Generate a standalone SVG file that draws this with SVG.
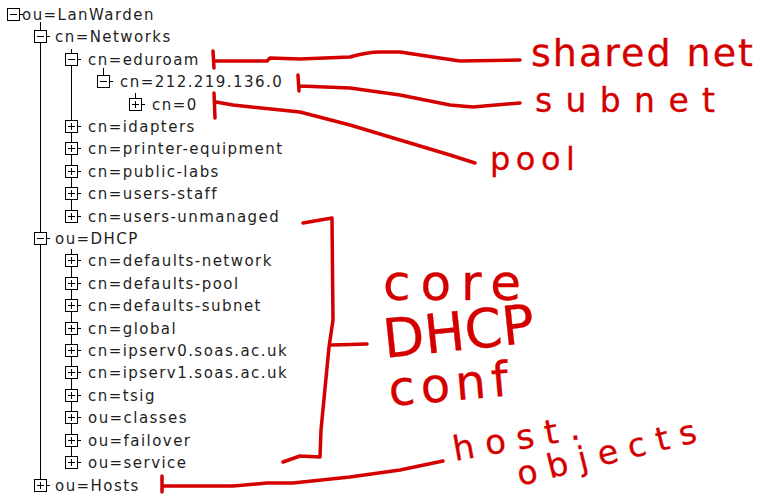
<svg xmlns="http://www.w3.org/2000/svg" xmlns:xlink="http://www.w3.org/1999/xlink" width="758" height="494" viewBox="0 0 758 494">
  <style>
    .lbl { font-family: "DejaVu Sans", "Liberation Sans", sans-serif; font-size: 15px; letter-spacing: 1.45px; fill: #1e1e1e; }
    .tree { stroke: #000; stroke-width: 1; fill: none; }
    .ink { stroke: #d40000; stroke-width: 3.5; fill: none; stroke-linecap: round; stroke-linejoin: round; }
    .note { font-family: "DejaVu Sans", "Liberation Sans", sans-serif; fill: #d40000; stroke: #d40000; stroke-width: 0.3; stroke-linejoin: round; }
  </style>
  <defs>
    <g id="minus">
      <rect x="0.5" y="0.5" width="12" height="12" fill="#fff" stroke="#000"/>
      <path d="M3 6.5h7M12.5 6.5h3.5" stroke="#000"/>
    </g>
    <g id="plus">
      <rect x="0.5" y="0.5" width="12" height="12" fill="#fff" stroke="#000"/>
      <path d="M3 6.5h7M6.5 3v7M12.5 6.5h3.5" stroke="#000"/>
    </g>
  </defs>

  <rect width="758" height="494" fill="#fff"/>

  <!-- tree guide lines -->
  <g id="connectors" class="tree">
    <path d="M40.5 22V479"/>
    <path d="M71.5 49V210"/>
    <path d="M71.5 249V456"/>
    <path d="M103.5 68V75"/>
    <path d="M135.5 93V98"/>
  </g>

  <!-- tree nodes -->
  <g id="n-lanwarden"><use xlink:href="#minus" x="7" y="8"/><text class="lbl" x="22" y="20">ou=LanWarden</text></g>
  <g id="n-networks"><use xlink:href="#minus" x="34" y="30"/><text class="lbl" x="55" y="42">cn=Networks</text></g>
  <g id="n-eduroam"><use xlink:href="#minus" x="65" y="53"/><text class="lbl" x="88" y="65">cn=eduroam</text></g>
  <g id="n-subnet"><use xlink:href="#minus" x="97" y="75"/><text class="lbl" x="120" y="87">cn=212.219.136.0</text></g>
  <g id="n-pool"><use xlink:href="#plus" x="129" y="98"/><text class="lbl" x="152" y="110">cn=0</text></g>
  <g id="n-idapters"><use xlink:href="#plus" x="65" y="120"/><text class="lbl" x="88" y="132">cn=idapters</text></g>
  <g id="n-printer"><use xlink:href="#plus" x="65" y="142"/><text class="lbl" x="88" y="154">cn=printer-equipment</text></g>
  <g id="n-publiclabs"><use xlink:href="#plus" x="65" y="165"/><text class="lbl" x="88" y="177">cn=public-labs</text></g>
  <g id="n-usersstaff"><use xlink:href="#plus" x="65" y="187"/><text class="lbl" x="88" y="199">cn=users-staff</text></g>
  <g id="n-usersunmanaged"><use xlink:href="#plus" x="65" y="210"/><text class="lbl" x="88" y="222">cn=users-unmanaged</text></g>
  <g id="n-dhcp"><use xlink:href="#minus" x="34" y="232"/><text class="lbl" x="55" y="244">ou=DHCP</text></g>
  <g id="n-defnetwork"><use xlink:href="#plus" x="65" y="254"/><text class="lbl" x="88" y="266">cn=defaults-network</text></g>
  <g id="n-defpool"><use xlink:href="#plus" x="65" y="277"/><text class="lbl" x="88" y="289">cn=defaults-pool</text></g>
  <g id="n-defsubnet"><use xlink:href="#plus" x="65" y="299"/><text class="lbl" x="88" y="311">cn=defaults-subnet</text></g>
  <g id="n-global"><use xlink:href="#plus" x="65" y="322"/><text class="lbl" x="88" y="334">cn=global</text></g>
  <g id="n-ipserv0"><use xlink:href="#plus" x="65" y="344"/><text class="lbl" x="88" y="356">cn=ipserv0.soas.ac.uk</text></g>
  <g id="n-ipserv1"><use xlink:href="#plus" x="65" y="366"/><text class="lbl" x="88" y="378">cn=ipserv1.soas.ac.uk</text></g>
  <g id="n-tsig"><use xlink:href="#plus" x="65" y="389"/><text class="lbl" x="88" y="401">cn=tsig</text></g>
  <g id="n-classes"><use xlink:href="#plus" x="65" y="411"/><text class="lbl" x="88" y="423">ou=classes</text></g>
  <g id="n-failover"><use xlink:href="#plus" x="65" y="434"/><text class="lbl" x="88" y="446">ou=failover</text></g>
  <g id="n-service"><use xlink:href="#plus" x="65" y="456"/><text class="lbl" x="88" y="468">ou=service</text></g>
  <g id="n-hosts"><use xlink:href="#plus" x="34" y="479"/><text class="lbl" x="55" y="491">ou=Hosts</text></g>

  <!-- hand-drawn annotation strokes -->
  <g id="annotation-lines" class="ink">
    <path d="M213 51L214 68M214 61L267 61L270 58L300 59L350 57Q368 52 380 52L400 52L433 57L460 61L520 60"/>
    <path d="M298 75L299 91M300 86L350 88L400 95L450 105L473 107L520 103"/>
    <path d="M214 93L215 118M216 102L233 105L300 112L350 125L400 140L450 155L475 163"/>
    <path d="M303 223L332 218L333 320L329 347L321 430L320 457L300 456L283 462M332 345L367 344"/>
    <path d="M162 476L162 492M163 486L233 486L267 483L293 483L350 477L400 470L443 461"/>
  </g>

  <!-- hand-written notes -->
  <g id="annotation-text">
    <text class="note" x="531" y="66" font-size="38" textLength="222" lengthAdjust="spacing">shared net</text>
    <text class="note" x="535" y="112" font-size="33" textLength="180" lengthAdjust="spacing">subnet</text>
    <text class="note" x="490" y="170" font-size="32" textLength="85" lengthAdjust="spacing">pool</text>
    <text class="note" x="383" y="300" font-size="50" textLength="138" lengthAdjust="spacing">core</text>
    <text class="note" transform="translate(385 358) rotate(-6)" font-size="54" textLength="152" lengthAdjust="spacingAndGlyphs">DHCP</text>
    <text class="note" transform="translate(390 406) rotate(-5)" font-size="48" textLength="120" lengthAdjust="spacing">conf</text>
    <text class="note" transform="translate(455 461) rotate(-10)" font-size="34" textLength="128" lengthAdjust="spacing">host.</text>
    <text class="note" transform="translate(520 486) rotate(-14)" font-size="33" textLength="184" lengthAdjust="spacing">objects</text>
  </g>
</svg>
